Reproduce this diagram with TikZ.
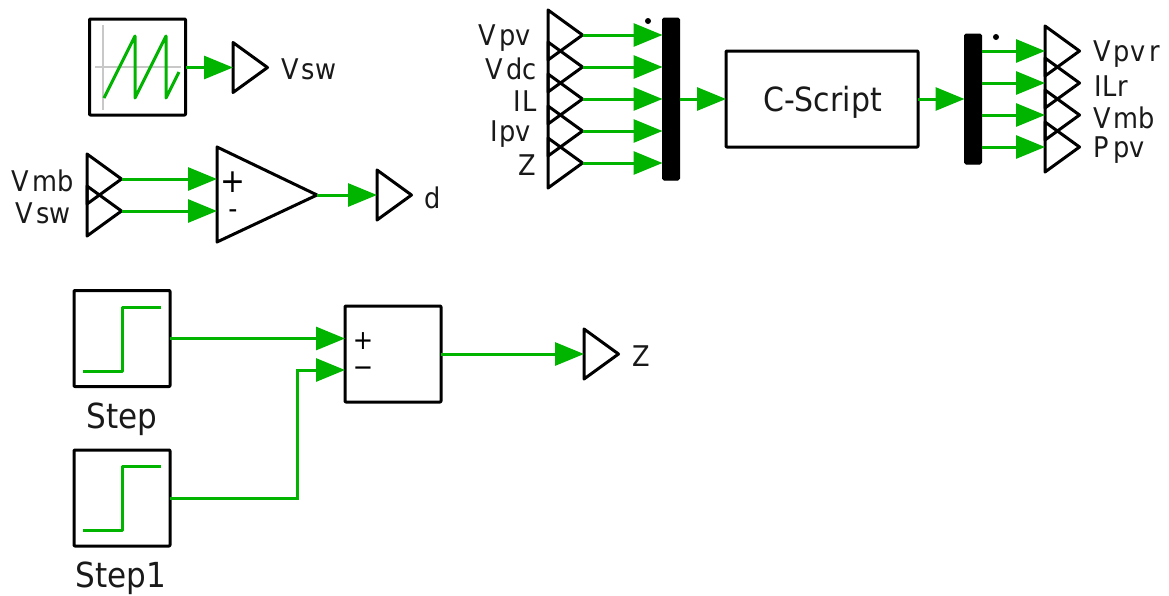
\documentclass[tikz,border=0pt]{standalone}
\usepackage{fontspec}
\setmainfont[FakeStretch=0.9]{DejaVu Sans}
\usetikzlibrary{arrows.meta}
\definecolor{wiregreen}{RGB}{0,180,0}
\definecolor{axisgray}{RGB}{200,200,200}
\tikzset{
  wire/.style={draw=wiregreen,line width=3pt,-{Triangle[length=29pt,width=23pt,fill=wiregreen]}},
  plainwire/.style={draw=wiregreen,line width=3pt,line join=round},
  outline/.style={draw=black,line width=3pt,line join=round},
  block/.style={outline,rectangle,outer sep=0pt,inner sep=0pt,minimum width=#1,minimum height=#1,rounded corners=0.8pt},
  lab/.style={inner sep=0pt,font=\fontsize{28.5}{28.5}\selectfont,text=black!90},
  biglab/.style={inner sep=0pt,font=\fontsize{34.5}{34.5}\selectfont,text=black!90},
  bar/.style={fill=black,draw=black,line width=1pt,rectangle,outer sep=0pt,inner sep=0pt,minimum width=17pt,rounded corners=1.5pt},
  tickdot/.style={fill=black,circle,inner sep=0pt,minimum size=6pt}
}
% right-pointing port triangle: name, left x, centre y
\newcommand{\porttri}[3]{%
  \coordinate (#1-in) at (#2,#3);
  \coordinate (#1-out) at (#2+34.5,#3);
  \draw[outline] (#2,#3-25) -- (#2+34.5,#3) -- (#2,#3+25) -- cycle;
}
\begin{document}
\begin{tikzpicture}[x=1pt,y=-1pt]
\useasboundingbox (0,0) rectangle (1169,595);
% sawtooth source
\node[block=96pt] (saw) at (137.5,67) {};
\draw[axisgray,line width=2.6pt] (103,25) -- (103,110) (95,67) -- (181,67);
\draw[plainwire] (104,98) -- (135,36) -- (135,98) -- (166,36) -- (166,98) -- (179,72);
\porttri{pVswA}{233}{67.5}
\draw[wire] (saw.east |- pVswA-in) -- (pVswA-in);
\node[lab,anchor=west] (lVswA) at (281,69) {V\kern3pt sw};
% comparator
\porttri{pVmbA}{87}{179}
\porttri{pVswB}{87}{211}
\node[lab,anchor=east] (lVmbA) at (74,181) {V\kern3pt mb};
\node[lab,anchor=east] (lVswB) at (71,213) {V\kern3pt sw};
\coordinate (cmpP) at (217,179);
\coordinate (cmpM) at (217,211);
\coordinate (cmpOut) at (317,195);
\draw[outline] (217,147) -- (317,195) -- (217,242) -- cycle;
\node[inner sep=0pt,font=\fontsize{33}{33}\selectfont] (cmpPlus) at (233,182) {+};
\node[inner sep=0pt,font=\fontsize{28}{28}\selectfont] (cmpMinus) at (233,214) {-};
\draw[wire] (pVmbA-out) -- (cmpP);
\draw[wire] (pVswB-out) -- (cmpM);
\porttri{pD}{377}{195}
\draw[wire] (cmpOut) -- (pD-in);
\node[lab,anchor=west] (lD) at (424,198) {d};
% input ports and mux
\node[bar,minimum height=162pt] (muxA) at (671,99) {};
\node[tickdot] (dotA) at (648,21) {};
\foreach \n/\y in {a/35,b/67,c/99,d/131,e/163}{
  \porttri{in\n}{548}{\y}
  \draw[wire] (in\n-out) -- (muxA.west |- in\n-out);
}
\node[lab,anchor=east] (lVpv) at (531,38) {V\kern3pt pv};
\node[lab,anchor=east] (lVdc) at (537,69) {V\kern3pt dc};
\node[lab,anchor=east] (lIL) at (537,101) {I\kern1pt L};
\node[lab,anchor=east] (lIpv) at (531,134) {I\kern1pt pv};
\node[lab,anchor=east] (lZA) at (536,165) {Z};
% C-Script
\node[block=96pt,minimum width=192pt] (cs) at (822,99) {};
\node[inner sep=0pt,text=black!90,font=\fontsize{33.3}{33.3}\selectfont] (lCs) at (822.5,102) {C-Script};
\draw[wire] (muxA.east) -- (cs.west);
% demux and output ports
\node[bar,minimum height=130pt] (muxB) at (973,99) {};
\node[tickdot] (dotB) at (996,37) {};
\draw[wire] (cs.east) -- (muxB.west);
\foreach \n/\y in {a/51,b/83,c/115,d/147}{
  \porttri{out\n}{1045}{\y}
  \draw[wire] (muxB.east |- out\n-in) -- (out\n-in);
}
\node[lab,anchor=west] (lVpvr) at (1093,54) {V\kern3pt pv\kern4pt r};
\node[lab,anchor=west] (lILr) at (1094,86) {I\kern1pt Lr};
\node[lab,anchor=west] (lVmbB) at (1093,118) {V\kern3pt mb};
\node[lab,anchor=west] (lPpv) at (1093.5,150) {P\kern4pt pv};
% step sources
\node[block=96pt] (st) at (122,338.5) {};
\node[block=96pt] (st1) at (122,498) {};
\draw[plainwire] (83,371) -- (122,371) -- (122,307) -- (161,307);
\draw[plainwire] (83,530) -- (122,530) -- (122,466) -- (161,466);
\node[biglab] (lSt) at (122,419) {Step};
\node[biglab] (lSt1) at (121,578) {Step1};
% sum
\node[block=96pt] (sum) at (393,354) {};
\coordinate (sumP) at (345,338.5);
\coordinate (sumM) at (345,370);
\node[inner sep=0pt,font=\fontsize{27}{27}\selectfont] (sumPlus) at (363,341) {+};
\node[inner sep=0pt,font=\fontsize{27}{27}\selectfont] (sumMinus) at (363,372) {−};
\draw[wire] (st.east) -- (sumP);
\draw[wire] (st1.east) -| (297,370) -- (sumM);
\porttri{pZ}{584}{354}
\draw[wire] (sum.east) -- (pZ-in);
\node[lab,anchor=west] (lZB) at (632,356) {Z};
\end{tikzpicture}
\end{document}
